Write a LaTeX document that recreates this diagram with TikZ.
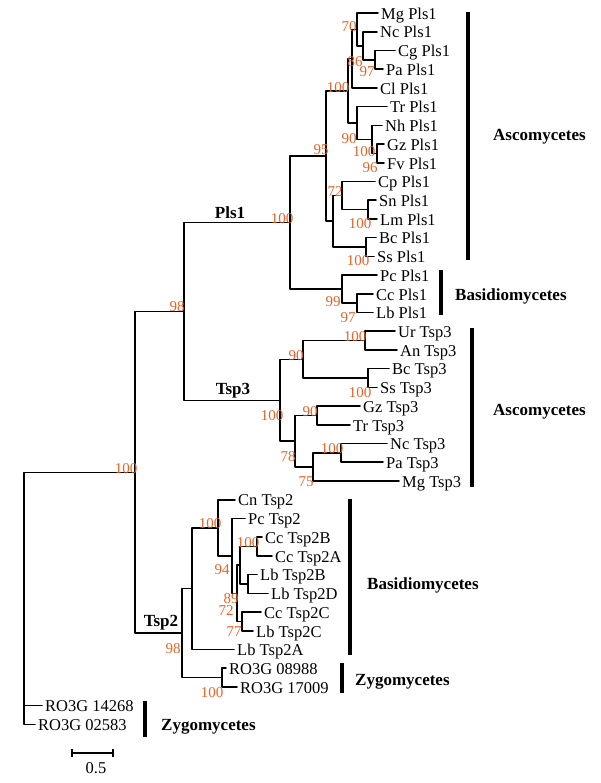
\documentclass[tikz,border=0pt]{standalone}
\usepackage{fontspec}
\setmainfont{Liberation Serif}
\definecolor{bootcol}{RGB}{232,98,38}
\tikzset{
  branch/.style={line width=1.6pt},
  leaf/.style={anchor=west, inner xsep=3pt, inner ysep=0pt, text height=12.5pt, text depth=0pt, font=\fontsize{16.5}{18}\selectfont},
  boot/.style={text=bootcol, inner sep=0pt, font=\fontsize{15}{17}\selectfont},
  clade/.style={anchor=west, inner sep=0pt, text height=11pt, text depth=0pt, font=\fontsize{17}{19}\selectfont\bfseries},
  genebox/.style={inner sep=0pt, font=\fontsize{17}{19}\selectfont\bfseries},
  groupbar/.style={line width=4pt, line cap=butt}
}
\begin{document}
\begin{tikzpicture}[x=1pt, y=-1pt, line join=round, line cap=round]
		\useasboundingbox (0,0) rectangle (600,783);
		% internal nodes
		\path
		(375,59.8) coordinate (pCgPa)
		(363,45.8) coordinate (pNc)
		(357,29.4) coordinate (pMg)
		(352,58.6) coordinate (pCl)
		(377,153.4) coordinate (pGzFv)
		(372,139.4) coordinate (pNh)
		(357,123) coordinate (pTr)
		(348,90.8) coordinate (pA)
		(368,209.6) coordinate (pSnLm)
		(342,195.5) coordinate (pCp)
		(366,247) coordinate (pBcSs)
		(333,221.3) coordinate (pB)
		(326,156) coordinate (p95)
		(357,303.2) coordinate (pCcLb)
		(342,289.1) coordinate (pBasP)
		(290,222.6) coordinate (pPls1)
		(365,340.6) coordinate (pUrAn)
		(368,378) coordinate (pBcSsT)
		(303,359.3) coordinate (pNinety)
		(317,415.5) coordinate (pGzTr)
		(341,452.9) coordinate (pNcPa)
		(313,467) coordinate (pSevFive)
		(295,441.2) coordinate (pSevEight)
		(280,400.3) coordinate (pTsp3)
		(184,311.4) coordinate (pNinEight)
		(257,546.5) coordinate (pCcBA)
		(248,584) coordinate (pLbBD)
		(240,565.2) coordinate (pX)
		(242,621.4) coordinate (pCcLbC)
		(237,593.3) coordinate (pEigNine)
		(232,555.9) coordinate (pPc)
		(218,527.8) coordinate (pCn)
		(192,588.6) coordinate (pBasT)
		(222,677.6) coordinate (pRO)
		(182,633.1) coordinate (pTsp2)
		(135,472.3) coordinate (pHund)
		(24,598) coordinate (pRoot);
		
		\foreach \a/\b in {pMg/pNc, pNc/pCgPa, pCl/pMg, pA/pCl, pA/pTr, pTr/pNh, pNh/pGzFv,
			p95/pA, p95/pB, pB/pCp, pCp/pSnLm, pB/pBcSs, pPls1/p95, pPls1/pBasP, pBasP/pCcLb,
			pNinEight/pPls1, pNinEight/pTsp3, pTsp3/pNinety, pTsp3/pSevEight, pNinety/pUrAn,
			pNinety/pBcSsT, pSevEight/pGzTr, pSevEight/pSevFive, pSevFive/pNcPa,
			pRoot/pHund, pHund/pNinEight, pHund/pTsp2, pTsp2/pBasT, pTsp2/pRO, pBasT/pCn, pCn/pPc,
			pPc/pEigNine, pEigNine/pX, pEigNine/pCcLbC, pX/pCcBA, pX/pLbBD}
		\draw[branch] (\a) |- (\b);
		
		% leaves
		\foreach \n/\p/\x/\i/\t in {MgP/pMg/378/0/Mg Pls1, NcP/pNc/377/1/Nc Pls1,
			CgP/pCgPa/395/2/Cg Pls1, PaP/pCgPa/383/3/Pa Pls1, ClP/pCl/377/4/Cl Pls1,
			TrP/pTr/387/5/Tr Pls1, NhP/pNh/382/6/Nh Pls1, GzP/pGzFv/384/7/Gz Pls1,
			FvP/pGzFv/384/8/Fv Pls1, CpP/pCp/375/9/Cp Pls1, SnP/pSnLm/376/10/Sn Pls1,
			LmP/pSnLm/377/11/Lm Pls1, BcP/pBcSs/376/12/Bc Pls1, SsP/pBcSs/374/13/Ss Pls1,
			PcP/pBasP/377/14/Pc Pls1, CcP/pCcLb/373/15/Cc Pls1, LbP/pCcLb/373/16/Lb Pls1,
			UrT/pUrAn/395/17/Ur Tsp3, AnT/pUrAn/397/18/An Tsp3, BcT/pBcSsT/389/19/Bc Tsp3,
			SsT/pBcSsT/377/20/Ss Tsp3, GzT/pGzTr/360/21/Gz Tsp3, TrT/pGzTr/350/22/Tr Tsp3,
			NcT/pNcPa/387/23/Nc Tsp3, PaT/pNcPa/383/24/Pa Tsp3, MgT/pSevFive/399/25/Mg Tsp3,
			CnT/pCn/235/26/Cn Tsp2, PcT/pPc/245/27/Pc Tsp2, CcB/pCcBA/262/28/Cc Tsp2B,
			CcA/pCcBA/272/29/Cc Tsp2A, LbB/pLbBD/257/30/Lb Tsp2B, LbD/pLbBD/268/31/Lb Tsp2D,
			CcC/pCcLbC/261/32/Cc Tsp2C, LbC/pCcLbC/253/33/Lb Tsp2C, LbA/pBasT/234/34/Lb Tsp2A,
			RoA/pRO/226/35/RO3G 08988, RoB/pRO/237/36/RO3G 17009,
			RoC/pRoot/42/37/RO3G 14268, RoD/pRoot/35/38/RO3G 02583}
		{\node[leaf] (\n) at (\x,{13+18.72*\i}) {\t};
			\draw[branch] (\p) |- (\n.west);}
		
		% bootstrap values
		\foreach \x/\y/\v [count=\k] in {349/27/70, 355/62/86, 367/72/97, 338/88/100,
			349/139/90, 364/152/100, 370/168/96, 321/150/95, 335/192/72, 360/224/100,
			358/261/100, 282/219/100, 333/302/99, 348/318/97, 355/337/100, 296/356/90,
			360/393/100, 272/416/100, 310/412/90, 288/457/78, 332/449/100, 306/482/75,
			177/307/98, 126/469/100, 210/524/100, 248/543/100, 222/570/94, 231/599/89,
			226/611/72, 234/632/77, 173/649/98, 212/693/100}
		\node[boot] (b\k) at (\x,\y) {\v};
		
		\node[genebox] (gPls) at (230,213) {Pls1};
		\node[genebox] (gTspThree) at (233,391) {Tsp3};
		\node[genebox] (gTspTwo) at (161,623) {Tsp2};
		
		% group bars
		\draw[groupbar] (468,12) -- (468,260)
		(441,270) -- (441,315)
		(472,328) -- (472,487)
		(350,499) -- (350,655)
		(342,663) -- (342,693)
		(145,701) -- (145,737);
		\node[clade] (asA) at (493,135) {Ascomycetes};
		\node[clade] (baA) at (455,295) {Basidiomycetes};
		\node[clade] (asB) at (493,410) {Ascomycetes};
		\node[clade] (baB) at (367,584) {Basidiomycetes};
		\node[clade] (zyA) at (355,680) {Zygomycetes};
		\node[clade] (zyB) at (161,725) {Zygomycetes};
		
		% scale
		\path (72,753) coordinate (sa) (113,753) coordinate (sb);
		\draw[branch, line cap=butt] (sa) -- (sb) (sa) ++(0,-4) -- ++(0,8)
		(sb) ++(0,-4) -- ++(0,8);
		\node[leaf, anchor=center, inner xsep=0pt] (sl) at (96,767) {0.5};
		
	\end{tikzpicture}
\end{document}
